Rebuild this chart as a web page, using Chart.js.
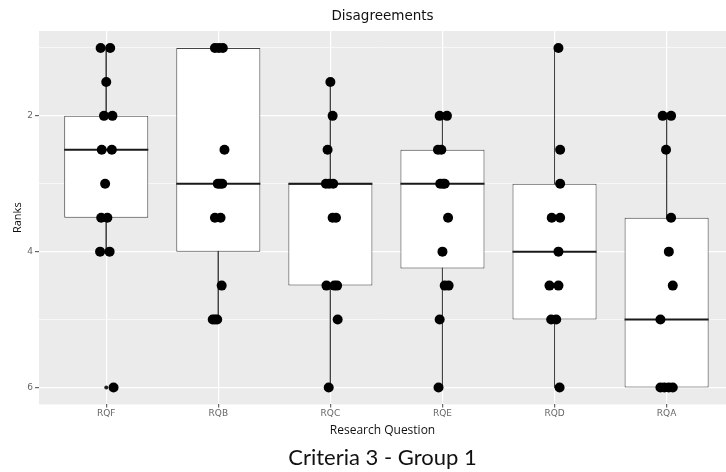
<!DOCTYPE html>
<html>
<head>
<meta charset="utf-8">
<script src="https://cdn.jsdelivr.net/npm/chart.js@4.4.1/dist/chart.umd.min.js"></script>
<style>
  html, body { margin: 0; padding: 0; background: #fff; }
</style>
</head>
<body>
<canvas id="chart" width="726" height="472"></canvas>
<script>
// categories along the x axis
const categories = ['RQF', 'RQB', 'RQC', 'RQE', 'RQD', 'RQA'];

// box statistics (ranks)
const whiskerLow  = [1,   1, 1.5, 2,    1, 2];
const quartile1   = [2,   1, 3,   2.5,  3, 3.5];
const medians     = [2.5, 3, 3,   3,    4, 5];
const quartile3   = [3.5, 4, 4.5, 4.25, 5, 6];
const whiskerHigh = [4,   5, 6,   6,    6, 6];
const outliers    = [[6], [], [], [], [], []];

// individual answers per research question
const ranks = [
  [1, 1, 1.5, 2, 2, 2.5, 2.5, 3, 3.5, 3.5, 4, 4, 6],
  [1, 1, 1, 2.5, 3, 3, 3, 3.5, 3.5, 4.5, 5, 5, 5],
  [1.5, 2, 2.5, 3, 3, 3, 3.5, 3.5, 4.5, 4.5, 4.5, 5, 6],
  [2, 2, 2.5, 2.5, 3, 3, 3, 3.5, 4, 4.5, 4.5, 5, 6],
  [1, 2.5, 3, 3.5, 3.5, 4, 4.5, 4.5, 5, 5, 6],
  [2, 2, 2.5, 3.5, 4, 4.5, 5, 6, 6, 6, 6]
];
// horizontal jitter of each answer (in category units)
const jitter = [
  [-0.05, 0.035, 0, -0.02, 0.055, -0.04, 0.05, -0.01, -0.045, 0.01, -0.055, 0.03, 0.065],
  [-0.03, 0.005, 0.04, 0.055, -0.005, 0.015, 0.035, -0.03, 0.02, 0.03, -0.05, -0.03, -0.01],
  [0, 0.02, -0.025, -0.04, -0.01, 0.025, 0.02, 0.05, -0.035, 0.035, 0.06, 0.065, -0.015],
  [-0.025, 0.04, -0.04, -0.01, -0.02, 0.005, 0.02, 0.05, 0, 0.02, 0.055, -0.025, -0.035],
  [0.035, 0.05, 0.05, -0.025, 0.05, 0.035, -0.045, 0.035, -0.03, 0.015, 0.045],
  [-0.035, 0.04, -0.005, 0.04, 0.02, 0.055, -0.055, -0.055, -0.02, 0.02, 0.055]
];

const rankTicks = [1, 2, 3, 4, 5, 6];
const labelledTicks = [2, 4, 6];

const BOX_WIDTH = 0.75;
const isMajor = v => labelledTicks.includes(v);

// build the datasets
const boxData = categories.map((c, i) => ({ x: i + 1, y: [quartile1[i], quartile3[i]] }));
const whiskerData = [];
const medianData = [];
categories.forEach((c, i) => {
  whiskerData.push({ x: i + 1, y: whiskerLow[i] }, { x: i + 1, y: whiskerHigh[i] }, { x: i + 1, y: null });
  medianData.push({ x: i + 1 - BOX_WIDTH / 2, y: medians[i] }, { x: i + 1 + BOX_WIDTH / 2, y: medians[i] }, { x: i + 1, y: null });
});
const pointData = [];
ranks.forEach((list, i) => {
  list.forEach((r, j) => pointData.push({ x: i + 1 + jitter[i][j], y: r }));
});
const outlierData = [];
outliers.forEach((list, i) => list.forEach(r => outlierData.push({ x: i + 1, y: r })));

// grey panel like ggplot
const panelBackground = {
  id: 'panelBackground',
  beforeDraw(chart) {
    const { ctx, chartArea: { left, top, width, height } } = chart;
    ctx.save();
    ctx.fillStyle = '#fff';
    ctx.fillRect(0, 0, chart.width, chart.height);
    ctx.fillStyle = '#EBEBEB';
    ctx.fillRect(left, top, width, height);
    ctx.restore();
  }
};

new Chart(document.getElementById('chart').getContext('2d'), {
  type: 'scatter',
  data: {
    datasets: [
      {
        type: 'line',
        data: whiskerData,
        borderColor: '#444',
        borderWidth: 1,
        pointRadius: 0,
        showLine: true,
        spanGaps: false,
        order: 4
      },
      {
        type: 'bar',
        data: boxData,
        backgroundColor: '#ffffff',
        borderColor: '#444',
        borderWidth: 1,
        borderSkipped: false,
        barPercentage: BOX_WIDTH,
        categoryPercentage: 1,
        order: 3
      },
      {
        type: 'line',
        data: medianData,
        borderColor: '#1a1a1a',
        borderWidth: 2,
        pointRadius: 0,
        showLine: true,
        spanGaps: false,
        order: 2
      },
      {
        type: 'scatter',
        data: outlierData,
        backgroundColor: '#222',
        borderWidth: 0,
        pointRadius: 2,
        order: 1
      },
      {
        type: 'scatter',
        data: pointData,
        backgroundColor: '#000',
        borderWidth: 0,
        pointRadius: 5,
        order: 0
      }
    ]
  },
  options: {
    responsive: false,
    animation: false,
    layout: { padding: 0, autoPadding: false },
    plugins: {
      legend: { display: false },
      tooltip: { enabled: false },
      title: {
        display: true,
        text: 'Disagreements',
        fullSize: false,
        color: '#111',
        font: { family: 'DejaVu Sans', size: 13.5, weight: 'normal' },
        padding: { top: 8, bottom: 6.8 }
      },
      subtitle: {
        display: true,
        position: 'bottom',
        text: 'Criteria 3 - Group 1',
        fullSize: false,
        color: '#111',
        font: { family: 'Lato', size: 22 },
        padding: { top: 4, bottom: 1 }
      }
    },
    scales: {
      x: {
        type: 'linear',
        min: 0.4,
        max: 6.53,
        offset: false,
        afterBuildTicks: s => { s.ticks = categories.map((c, i) => ({ value: i + 1 })); },
        ticks: {
          callback: v => categories[Math.round(v) - 1],
          color: '#666',
          font: { family: 'DejaVu Sans', size: 9 },
          padding: 1,
          maxRotation: 0,
          autoSkip: false
        },
        grid: { color: '#fff', lineWidth: 1.2, tickLength: 3, tickColor: '#666', offset: false },
        border: { display: false },
        title: {
          display: true,
          text: 'Research Question',
          color: '#111',
          font: { family: 'Open Sans', size: 12 },
          padding: { top: 3, bottom: 3 }
        }
      },
      y: {
        type: 'linear',
        reverse: true,
        min: 0.75,
        max: 6.25,
        beginAtZero: false,
        afterBuildTicks: s => { s.ticks = rankTicks.map(v => ({ value: v })); },
        afterFit: s => { s.width = 39; },
        ticks: {
          callback: v => isMajor(v) ? String(v) : '',
          color: '#666',
          font: { family: 'DejaVu Sans', size: 9 },
          padding: 2
        },
        grid: {
          color: '#fff',
          lineWidth: ctx => isMajor(ctx.tick.value) ? 1.2 : 0.6,
          tickLength: 4,
          tickColor: ctx => isMajor(ctx.tick.value) ? '#666' : 'rgba(0,0,0,0)'
        },
        border: { display: false },
        title: {
          display: true,
          text: 'Ranks',
          color: '#111',
          font: { family: 'Open Sans', size: 11 },
          padding: { top: 11, bottom: 0 }
        }
      }
    }
  },
  plugins: [panelBackground]
});
</script>
</body>
</html>
